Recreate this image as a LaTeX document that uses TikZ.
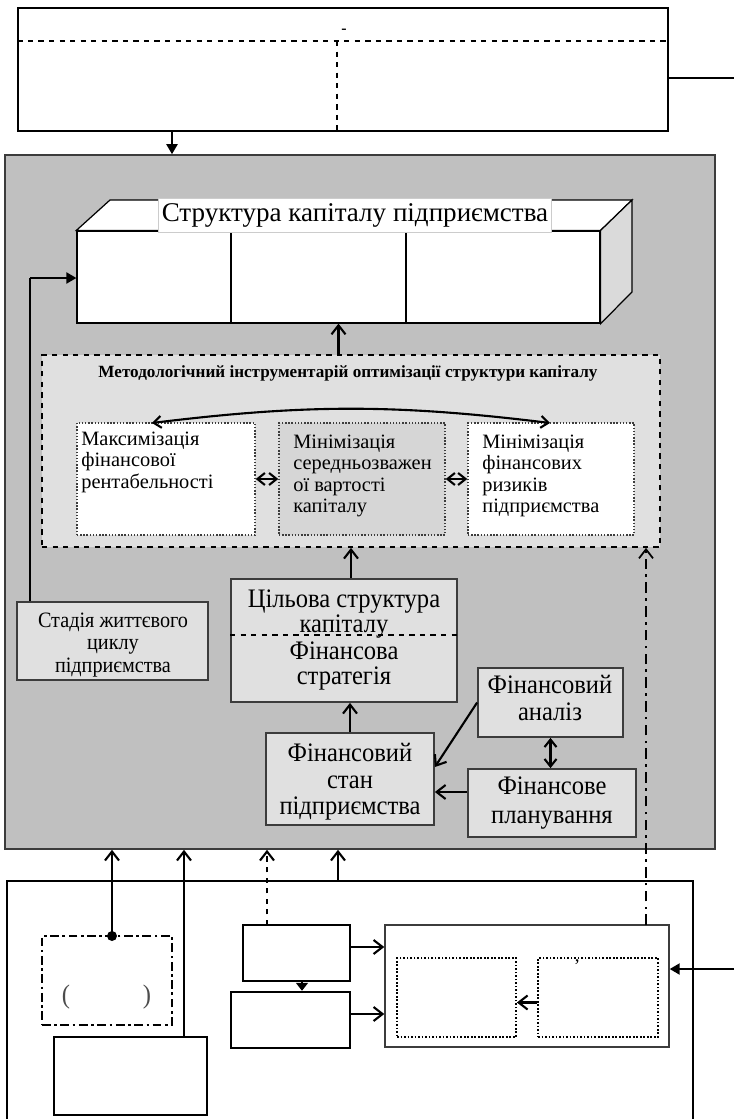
\documentclass[tikz,border=0pt]{standalone}
\usepackage{fontspec}
\setmainfont{Liberation Serif}
\newfontfamily\narrowserif{Liberation Serif}[FakeStretch=0.92]
\usetikzlibrary{arrows.meta,fit}
\definecolor{panelgray}{RGB}{192,192,192}
\definecolor{paleface}{RGB}{224,224,224}
\definecolor{midface}{RGB}{214,214,214}
\definecolor{sideface}{RGB}{218,218,218}
\definecolor{edgegray}{RGB}{60,60,60}

\begin{document}
\begin{tikzpicture}[x=0.02cm,y=-0.02cm,
  plainbox/.style={draw=black,line width=0.7pt,fill=white,inner sep=0pt},
  panelbox/.style={draw=edgegray,line width=0.9pt,fill=panelgray,inner sep=0pt},
  unitbox/.style={draw=edgegray,line width=1pt,fill=paleface,inner sep=0pt},
  toolset/.style={draw=black,dashed,line width=1pt,fill=paleface,inner sep=0pt},
  toolbox/.style={draw=edgegray,densely dotted,line width=0.8pt,fill=white,inner sep=0pt},
  srcbox/.style={draw=black,line width=1.4pt,fill=white,inner sep=0pt},
  regbox/.style={draw=edgegray,line width=0.8pt,fill=white,inner sep=0pt},
  subbox/.style={draw=black,densely dotted,line width=1pt,fill=white,inner sep=0pt},
  cyclebox/.style={draw=black,line width=1.2pt,dash pattern=on 5pt off 2pt on 1.5pt off 2pt,fill=white,inner sep=0pt},
  lbl/.style={font=\narrowserif\fontsize{15.2}{15.2}\selectfont,align=center,inner sep=0pt},
  itemtext/.style={font=\fontsize{11.6}{12}\selectfont,align=left,anchor=north west,inner sep=0pt},
  up/.style={line width=1.2pt,-{Straight Barb[length=1.8mm,width=2.8mm]}},
  both/.style={line width=1.2pt,{Straight Barb[length=1.5mm,width=2.4mm]}-{Straight Barb[length=1.5mm,width=2.4mm]}},
  solid tip/.style={line width=1.2pt,-{Triangle[length=2mm,width=2.2mm]}}]
\useasboundingbox (0,0) rectangle (734,1119);
\node[plainbox, fit={(18,8) (668,131)}] (goals) {};
\coordinate (goalscut) at (0,41);
\coordinate (goalsmid) at (337,131);
\coordinate (goalsout) at (734,78);
\coordinate (goalsdown) at (172,131);
\draw[dashed,line width=1.2pt] (goals.west |- goalscut) -- (goals.east |- goalscut);
\draw[dashed,line width=1.2pt] (goalsmid |- goalscut) -- (goalsmid);
\draw[line width=0.7pt] (goals.east |- goalsout) -- (goalsout);
\node[font=\bfseries\fontsize{9}{9}\selectfont,inner sep=0pt] (goalsdash) at (344,31) {-};

\node[panelbox, fit={(5,155) (715,849)}] (panel) {};
\draw[solid tip] (goalsdown) -- (panel.north -| goalsdown);

\node[plainbox, fit={(77,231) (600,323)}] (capfront) {};
\draw[line width=0.7pt,fill=white] (capfront.north west) -- (110,200) -- (632,200) -- (capfront.north east) -- cycle;
\draw[line width=0.7pt,fill=sideface] (capfront.north east) -- (632,200) -- (632,292) -- (capfront.south east) -- cycle;
\draw[line width=0.7pt] (231,231) -- (231,323) (406,231) -- (406,323);
\node[lbl, font=\fontsize{15.4}{16}\selectfont, fill=white, draw=gray!40, inner xsep=2pt, minimum height=0.68cm] (captitle) at (355,215) {Структура капіталу підприємства};

\node[toolset, fit={(42,355) (660,547)}] (method) {};
\node[font=\bfseries\fontsize{9.75}{11}\selectfont,inner sep=0pt] (methtitle) at (348,373) {Методологічний інструментарій оптимізації структури капіталу};
\node[toolbox, fit={(77,423) (255,535)}] (maxbox) {};
\node[toolbox, fill=midface, fit={(279,423) (445,535)}] (midbox) {};
\node[toolbox, fit={(468,423) (634,535)}] (riskbox) {};
\node[itemtext] (maxtxt) at (81,432) {Максимізація\\фінансової\\рентабельності};
\node[itemtext] (midtxt) at (293,435) {Мінімізація\\середньозважен\\ої вартості\\капіталу};
\node[itemtext] (risktxt) at (482,435) {Мінімізація\\фінансових\\ризиків\\підприємства};
\coordinate (maxtop) at (152,423);
\coordinate (risktop) at (550,423);
\draw[both] (maxtop) to[bend left=7] (risktop);
\draw[both] (maxbox) -- (midbox);
\draw[both] (midbox) -- (riskbox);
\draw[up] (method.north -| capfront.south) -- (capfront.south);

\node[unitbox, fit={(17,602) (208,680)}] (stage) {};
\node[lbl, font=\narrowserif\fontsize{12.5}{12.8}\selectfont] (stagetxt) at (113,645) {Стадія життєвого\\циклу\\підприємства};
\coordinate (lifeturn) at (30,278);
\draw[line width=0.6pt] (stage.north -| lifeturn) -- (lifeturn);
\draw[solid tip] (lifeturn) -- (capfront.west |- lifeturn);

\node[unitbox, fit={(231,579) (457,702)}] (strat) {};
\coordinate (stratcut) at (0,635);
\draw[dashed,line width=1pt] (strat.west |- stratcut) -- (strat.east |- stratcut);
\node[lbl, font=\narrowserif\fontsize{15.2}{14.5}\selectfont] (target) at (344,614) {Цільова структура\\капіталу};
\node[lbl, font=\narrowserif\fontsize{15.2}{14.5}\selectfont] (strategy) at (344,666) {Фінансова\\стратегія};
\draw[up] (strat.north -| method.south) -- (method.south);

\node[unitbox, fit={(478,668) (623,737)}] (analysis) {};
\node[unitbox, fit={(266,733) (434,825)}] (state) {};
\node[unitbox, fit={(468,769) (636,837)}] (planning) {};
\node[lbl, font=\narrowserif\fontsize{15.2}{15.5}\selectfont] (analysistxt) at (550,698) {Фінансовий\\аналіз};
\node[lbl, font=\narrowserif\fontsize{15.2}{15}\selectfont] (statetxt) at (350,782) {Фінансовий\\стан\\підприємства};
\node[lbl, font=\narrowserif\fontsize{15.2}{16.5}\selectfont] (planningtxt) at (552,803) {Фінансове\\планування};
\draw[up] (state.north) -- (state.north |- strat.south);
\draw[up] (analysis.west) -- ([yshift=0.24cm]state.east);
\draw[both] (analysis.south) -- (planning.north -| analysis.south);
\draw[up] ([yshift=0.22cm]planning.west) -- ([yshift=0.22cm]planning.west -| state.east);

\node[plainbox, fit={(7,881) (693,1130)}] (basis) {};
\node[cyclebox, fit={(42,936) (172,1025)}] (cycle) {};
\node[lbl, text=black!70] (cycleL) at (66,997) {(};
\node[lbl, text=black!70] (cycleR) at (147,997) {)};
\node[srcbox, fit={(54,1037) (207,1115)}] (srcC) {};
\node[srcbox, fit={(243,925) (350,981)}] (srcA) {};
\node[srcbox, fit={(231,992) (350,1048)}] (srcB) {};
\node[regbox, fit={(385,925) (669,1047)}] (reg) {};
\node[subbox, fit={(397,958) (516,1037)}] (regL) {};
\node[subbox, fit={(538,958) (658,1037)}] (regR) {};
\node[font=\fontsize{11}{11}\selectfont,inner sep=0pt] (regmark) at (577,966) {’};

\coordinate (f1) at (112,936);
\coordinate (f2) at (184,1037);
\coordinate (f3) at (267,925);
\coordinate (f4) at (338,881);
\coordinate (srcAdown) at (302,981);
\coordinate (riskfeed) at (646,925);
\coordinate (extin) at (734,969);
\fill (f1) circle (5);
\draw[up] (f1) -- (panel.south -| f1);
\draw[up] (f2) -- (panel.south -| f2);
\draw[up, dashed] (f3) -- (panel.south -| f3);
\draw[up] (f4) -- (panel.south -| f4);
\draw[up, line width=1pt, dash pattern=on 6pt off 3pt on 1.5pt off 3pt] (riskfeed) -- (method.south -| riskfeed);
\draw[line width=1pt,-{Triangle[length=1.6mm,width=2.4mm]}] (srcAdown) -- (srcB.north -| srcAdown);
\draw[up] ([yshift=0.12cm]srcA.east) -- ([yshift=0.12cm]srcA.east -| reg.west);
\draw[up] ([yshift=0.12cm]srcB.east) -- ([yshift=0.12cm]srcB.east -| reg.west);
\draw[up] ([yshift=-0.1cm]regR.west) -- ([yshift=-0.1cm]regR.west -| regL.east);
\draw[solid tip] (extin) -- (reg.east |- extin);
\end{tikzpicture}
\end{document}
